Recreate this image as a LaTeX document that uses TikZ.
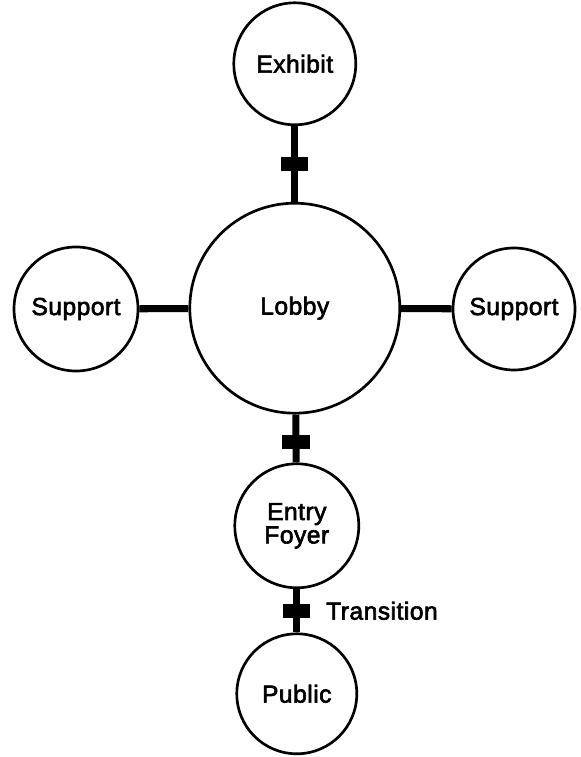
\documentclass[tikz,border=0pt]{standalone}
\usepackage{fontspec}
\newfontfamily\roomfont{Liberation Sans}[LetterSpace=2,BoldFont=Liberation Sans,BoldFeatures={FakeBold=2.5}]
\usetikzlibrary{positioning}
\tikzset{
  room/.style={circle,draw=black,line width=1.9pt,inner sep=0pt,align=center,
    font=\roomfont\bfseries\fontsize{17.5}{15}\selectfont},
  link/.style={draw=black,line width=5pt},
  door/.style={rectangle,fill=black,inner sep=0pt,minimum width=0.68cm,minimum height=0.36cm},
  note/.style={font=\roomfont\bfseries\fontsize{17.5}{15}\selectfont,inner sep=0pt}
}
\begin{document}
\begin{tikzpicture}[x=1cm,y=1cm]
\path[use as bounding box] (0,0) rectangle (14.525,18.925);
% rooms
\node[room,minimum size=3.05cm] (exhibit) at (7.37,17.33) {Exhibit};
\node[room,minimum size=5.25cm] (lobby) at (7.37,11.22) {Lobby};
\node[room,minimum size=3.1cm] (supl) at (1.9,11.2) {Support};
\node[room,minimum size=3.05cm] (supr) at (12.85,11.2) {Support};
\node[room,minimum size=3.1cm] (foyer) at (7.42,5.78) {Entry\\Foyer};
\node[room,minimum size=3.0cm] (public) at (7.42,1.58) {Public};
% connections, doors on the controlled ones
\draw[link] (exhibit) -- node[door,pos=.5] (d1) {} (lobby);
\draw[link] (supl) -- (lobby);
\draw[link] (lobby) -- (supr);
\draw[link] (lobby) -- node[door,pos=.57] (d2) {} (foyer);
\draw[link] (foyer) -- node[door,pos=.5] (d3) {} (public);
\node[note,right=0.3cm of d3] (trans) {Transition};
\end{tikzpicture}
\end{document}
